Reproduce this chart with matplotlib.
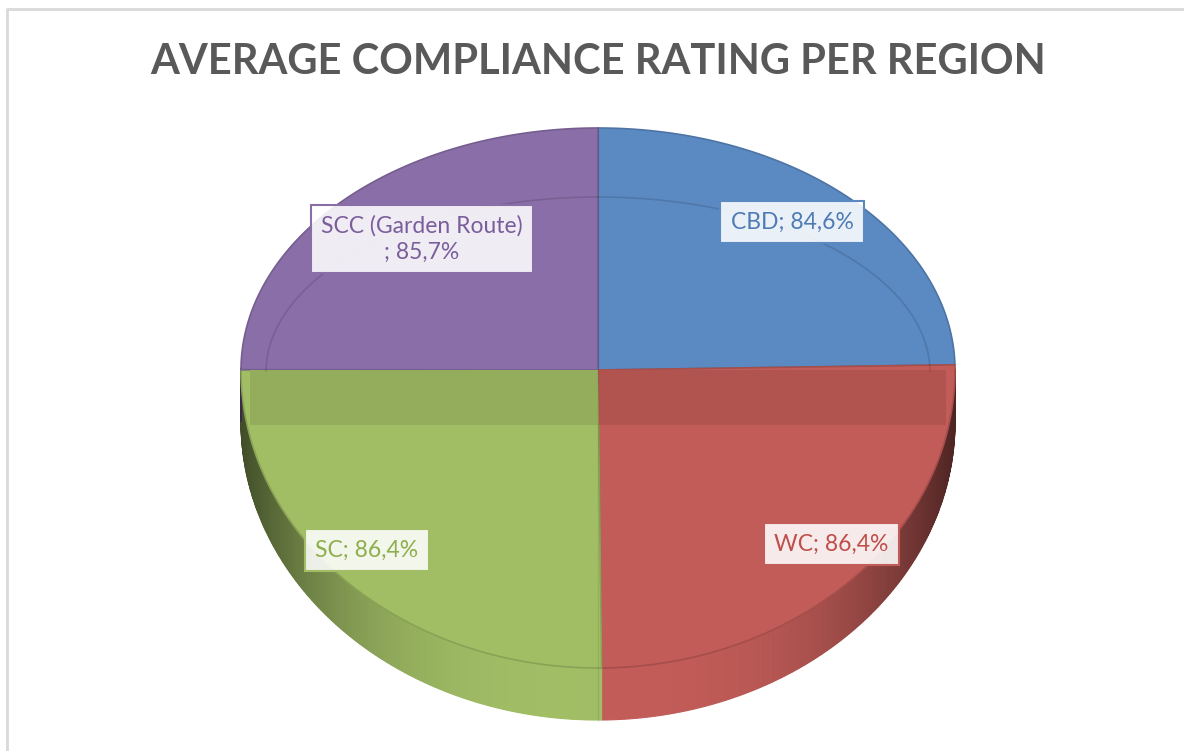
import numpy as np
import matplotlib
matplotlib.use("Agg")
import matplotlib.pyplot as plt
from matplotlib.patches import Polygon, Rectangle, Arc
from matplotlib.colors import to_rgb

# data
regions = ["CBD", "WC", "SC", "SCC (Garden Route)\n"]
ratings = [84.6, 86.4, 86.4, 85.7]
labels = ["CBD; 84,6%", "WC; 86,4%", "SC; 86,4%", "SCC (Garden Route)\n; 85,7%"]
face_colors = ["#5B89C2", "#C25C58", "#A1BE65", "#8A6EA8"]
text_colors = ["#4E7AB5", "#BE4F4B", "#8DAE4C", "#7A5E9C"]

# geometry of the tilted pie (pixel space)
cx, cy = 598, 370
rx, ry_top, ry_bot = 357, 242, 298
depth = 52


def to_px(pts):
    x, y = pts[:, 0], pts[:, 1]
    X = cx + rx * x
    Y = np.where(y >= 0, cy - ry_top * y, cy - ry_bot * y)
    return np.column_stack([X, Y])


def shade(c, f):
    r, g, b = to_rgb(c)
    return (r * f, g * f, b * f)


# let matplotlib work out the wedge angles, then trace them finely
tmpfig, tmpax = plt.subplots()
wedges, _ = tmpax.pie(ratings, startangle=90, counterclock=False, radius=1)
arcs = []
for w in wedges:
    th = np.radians(np.linspace(w.theta1, w.theta2, 200))
    arcs.append(np.column_stack([w.r * np.cos(th), w.r * np.sin(th)]))
plt.close(tmpfig)

fig = plt.figure(figsize=(11.84, 7.51), dpi=100)
ax = fig.add_axes([0, 0, 1, 1])
ax.set_xlim(0, 1184)
ax.set_ylim(751, 0)
ax.axis("off")

# chart border
ax.plot([7, 7, 1184], [751, 9, 9], color="#D9D9D9", lw=2, solid_capstyle="butt")

# side of the pie (only the front half shows)
for arc, col in zip(arcs, face_colors):
    rim = arc[arc[:, 1] < 0.01]
    if len(rim) < 2:
        continue
    px = to_px(rim)
    for i in range(len(px) - 1):
        xm = abs(0.5 * (rim[i, 0] + rim[i + 1, 0]))
        f = 1.0 - 0.6 * xm ** 3
        quad = [px[i], px[i + 1], px[i + 1] + [0, depth], px[i] + [0, depth]]
        ax.add_patch(Polygon(quad, closed=True, fc=shade(col, f), ec=shade(col, f),
                             lw=0.8, zorder=1))

# top face
for arc, col in zip(arcs, face_colors):
    pts = to_px(np.vstack([[0, 0], arc]))
    ax.add_patch(Polygon(pts, closed=True, fc=col, ec=shade(col, 0.85), lw=1.2, zorder=2))
    band = Polygon(pts, closed=True, fc=shade(col, 0.91), ec="none", zorder=3)
    ax.add_patch(band)
    band.set_clip_path(Rectangle((250, cy), 696, 55, transform=ax.transData))

# faint inner rim on the back half
ax.add_patch(Arc((cx, cy + 2), 664, 350, theta1=180, theta2=360,
                 color="#000000", alpha=0.12, lw=1.2, zorder=4))

# divider line
ax.plot([cx, cx], [128, 721], color="#000000", alpha=0.08, lw=1, zorder=4)

# data labels
label_pos = [(792, 222), (831, 544), (367, 550), (422, 239)]
for (x, y), lab, tc, fc in zip(label_pos, labels, text_colors, face_colors):
    ax.text(x, y, lab, ha="center", va="center", fontsize=16.5, family="Lato",
            color=tc, linespacing=1.3, zorder=6,
            bbox=dict(boxstyle="square,pad=0.45", fc=(1, 1, 1, 0.88), ec=fc, lw=1.5))

ax.text(598, 62, "AVERAGE COMPLIANCE RATING PER REGION", ha="center", va="center",
        fontsize=30, fontweight="bold", family="Lato", color="#595959")

fig.savefig("out.png", dpi=100)
